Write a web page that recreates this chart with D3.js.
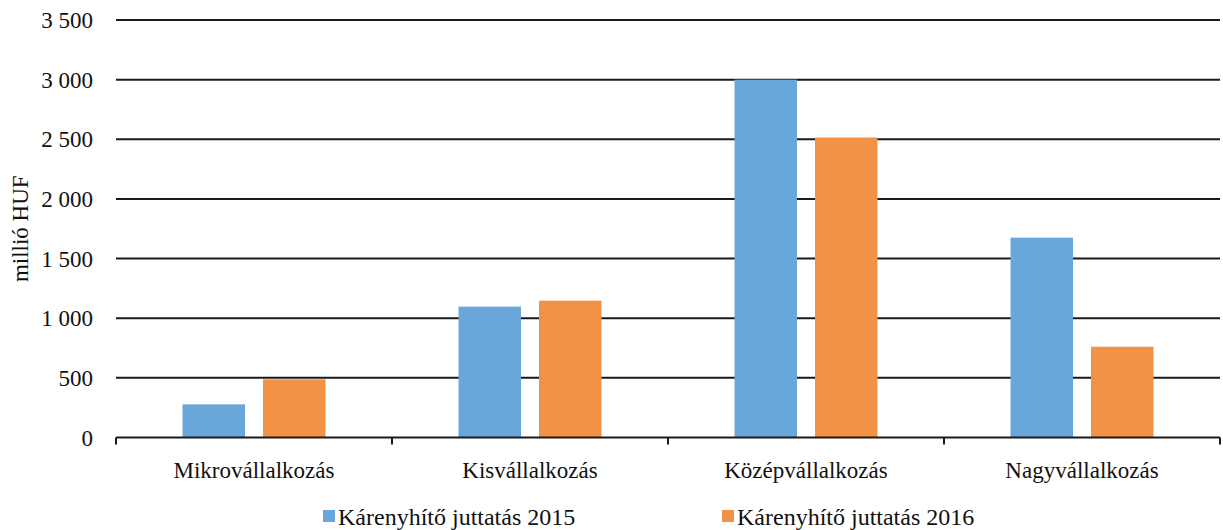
<!DOCTYPE html>
<html>
<head>
<meta charset="utf-8">
<script src="https://cdn.jsdelivr.net/npm/d3@7"></script>
<style>
  body { margin: 0; background: #fff; }
</style>
</head>
<body>
<svg id="chart" width="1223" height="530" font-family="'Liberation Serif', 'DejaVu Serif', serif"></svg>
<script>
const width = 1223;
const height = 530;

const categories = ["Mikrovállalkozás", "Kisvállalkozás", "Középvállalkozás", "Nagyvállalkozás"];
const seriesNames = ["Kárenyhítő juttatás 2015", "Kárenyhítő juttatás 2016"];
const values2015 = [278, 1097, 3000, 1675];
const values2016 = [488, 1147, 2515, 761];
const yTicks = [0, 500, 1000, 1500, 2000, 2500, 3000, 3500];

const colors = ["#69A7DB", "#F39244"];

const margin = { top: 20, right: 3, bottom: 92.5, left: 116 };
const plotW = width - margin.left - margin.right;
const plotH = height - margin.top - margin.bottom;

const svg = d3.select("#chart");
const g = svg.append("g").attr("transform", `translate(${margin.left},${margin.top})`);

const fmt = d3.formatLocale({ decimal: ",", thousands: "\u00a0", grouping: [3], currency: ["", ""] }).format(",d");

const x0 = d3.scaleBand().domain(categories).range([0, plotW]).paddingInner(0).paddingOuter(0);
const x1 = d3.scaleBand().domain(seriesNames).range([0, x0.bandwidth()]).paddingInner(0.2236).paddingOuter(0.826);
const y = d3.scaleLinear().domain([0, 3500]).range([plotH, 0]);

// gridlines
g.append("g")
  .selectAll("line")
  .data(yTicks.filter(d => d > 0))
  .enter().append("line")
  .attr("x1", 0).attr("x2", plotW)
  .attr("y1", d => y(d)).attr("y2", d => y(d))
  .attr("stroke", "#1a1a1a")
  .attr("stroke-width", 2);

// y tick labels
g.append("g")
  .selectAll("text")
  .data(yTicks)
  .enter().append("text")
  .attr("x", -23)
  .attr("y", d => y(d))
  .attr("dy", "0.35em")
  .attr("text-anchor", "end")
  .attr("fill", "#111")
  .style("font-size", "23px")
  .text(d => fmt(d));

// y title
svg.append("text")
  .attr("transform", `translate(28,${margin.top + y(1750)}) rotate(-90)`)
  .attr("text-anchor", "middle")
  .attr("fill", "#111")
  .style("font-size", "23px")
  .text("millió HUF");

// bars
const rows = categories.map((c, i) => ({ cat: c, vals: [values2015[i], values2016[i]] }));
const groups = g.selectAll(".grp")
  .data(rows)
  .enter().append("g")
  .attr("class", "grp")
  .attr("transform", d => `translate(${x0(d.cat)},0)`);

groups.selectAll("rect")
  .data(d => d.vals.map((v, k) => ({ name: seriesNames[k], value: v, k })))
  .enter().append("rect")
  .attr("x", d => x1(d.name))
  .attr("width", x1.bandwidth())
  .attr("y", d => y(d.value))
  .attr("height", d => plotH - y(d.value))
  .attr("fill", d => colors[d.k]);

// x axis
const xAxis = g.append("g").attr("transform", `translate(0,${plotH})`);
xAxis.append("line")
  .attr("x1", 0).attr("x2", plotW)
  .attr("stroke", "#1a1a1a").attr("stroke-width", 2);
xAxis.selectAll(".tick")
  .data(categories.map(c => x0(c)).concat([plotW]))
  .enter().append("line")
  .attr("x1", d => d).attr("x2", d => d)
  .attr("y1", 0).attr("y2", 7)
  .attr("stroke", "#1a1a1a").attr("stroke-width", 2);
xAxis.selectAll(".lbl")
  .data(categories)
  .enter().append("text")
  .attr("x", d => x0(d) + x0.bandwidth() / 2)
  .attr("y", 32)
  .attr("dy", "0.35em")
  .attr("text-anchor", "middle")
  .attr("fill", "#111")
  .style("font-size", "23px")
  .text(d => d);

// legend
const legendX = [323, 722];
const legend = svg.append("g");
seriesNames.forEach((name, k) => {
  legend.append("rect")
    .attr("x", legendX[k]).attr("y", 510)
    .attr("width", 12).attr("height", 12)
    .attr("fill", colors[k]);
  legend.append("text")
    .attr("x", legendX[k] + 15).attr("y", 517)
    .attr("dy", "0.35em")
    .attr("fill", "#111")
    .style("font-size", "24px")
    .text(name);
});
</script>
</body>
</html>
